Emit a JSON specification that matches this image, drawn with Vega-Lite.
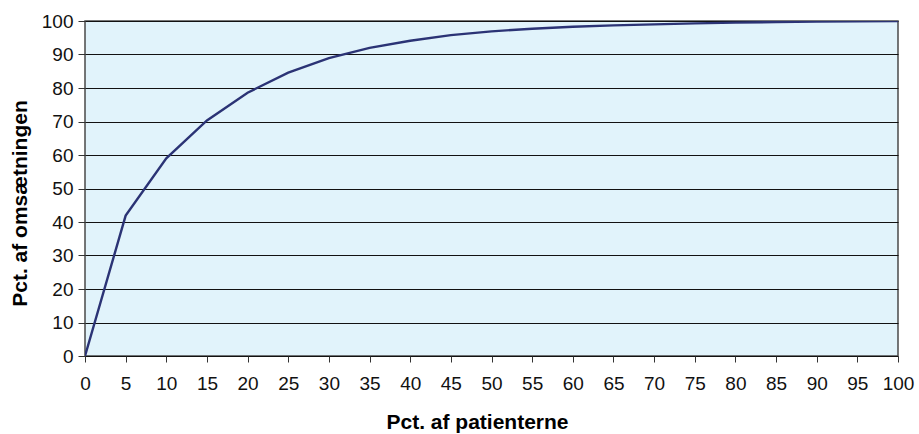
{
  "$schema": "https://vega.github.io/schema/vega-lite/v6.json",
  "width": 813,
  "height": 335,
  "autosize": "none",
  "padding": {"left": 85, "top": 21, "right": 21, "bottom": 78},
  "background": "white",
  "config": {
    "font": "Liberation Sans",
    "view": {"fill": "#E1F3FB", "stroke": "#4a4a4a", "strokeWidth": 1.5}
  },
  "data": {
    "values": [
      {"x": 0, "y": 0},
      {"x": 5, "y": 41.9},
      {"x": 10, "y": 59.0},
      {"x": 15, "y": 70.3},
      {"x": 20, "y": 78.6},
      {"x": 25, "y": 84.6},
      {"x": 30, "y": 88.9},
      {"x": 35, "y": 92.0},
      {"x": 40, "y": 94.1},
      {"x": 45, "y": 95.8},
      {"x": 50, "y": 96.9},
      {"x": 55, "y": 97.7},
      {"x": 60, "y": 98.3},
      {"x": 65, "y": 98.7},
      {"x": 70, "y": 99.0},
      {"x": 75, "y": 99.3},
      {"x": 80, "y": 99.5},
      {"x": 85, "y": 99.7},
      {"x": 90, "y": 99.8},
      {"x": 95, "y": 99.9},
      {"x": 100, "y": 100}
    ]
  },
  "mark": {"type": "line", "color": "#2B3375", "strokeWidth": 2.4, "clip": true},
  "encoding": {
    "x": {
      "field": "x",
      "type": "quantitative",
      "scale": {"domain": [0, 100], "nice": false},
      "axis": {
        "values": [0,5,10,15,20,25,30,35,40,45,50,55,60,65,70,75,80,85,90,95,100],
        "grid": false,
        "domain": false,
        "tickColor": "#333333",
        "tickSize": 6,
        "labelFontSize": 19,
        "labelColor": "#111111",
        "labelPadding": 12,
        "labelFlush": false,
        "title": "Pct. af patienterne",
        "titleFontSize": 21,
        "titleFontWeight": "bold",
        "titleColor": "#000000",
        "titlePadding": 18,
        "titleX": 392
      }
    },
    "y": {
      "field": "y",
      "type": "quantitative",
      "scale": {"domain": [0, 100], "nice": false},
      "axis": {
        "values": [0,10,20,30,40,50,60,70,80,90,100],
        "grid": true,
        "gridColor": "#111111",
        "gridWidth": 1.2,
        "domain": false,
        "tickColor": "#333333",
        "tickSize": 7,
        "labelFontSize": 19,
        "labelColor": "#111111",
        "labelPadding": 5,
        "labelFlush": false,
        "title": "Pct. af omsætningen",
        "titleFontSize": 21,
        "titleFontWeight": "bold",
        "titleColor": "#000000",
        "titlePadding": 11,
        "titleY": 182
      }
    }
  }
}
